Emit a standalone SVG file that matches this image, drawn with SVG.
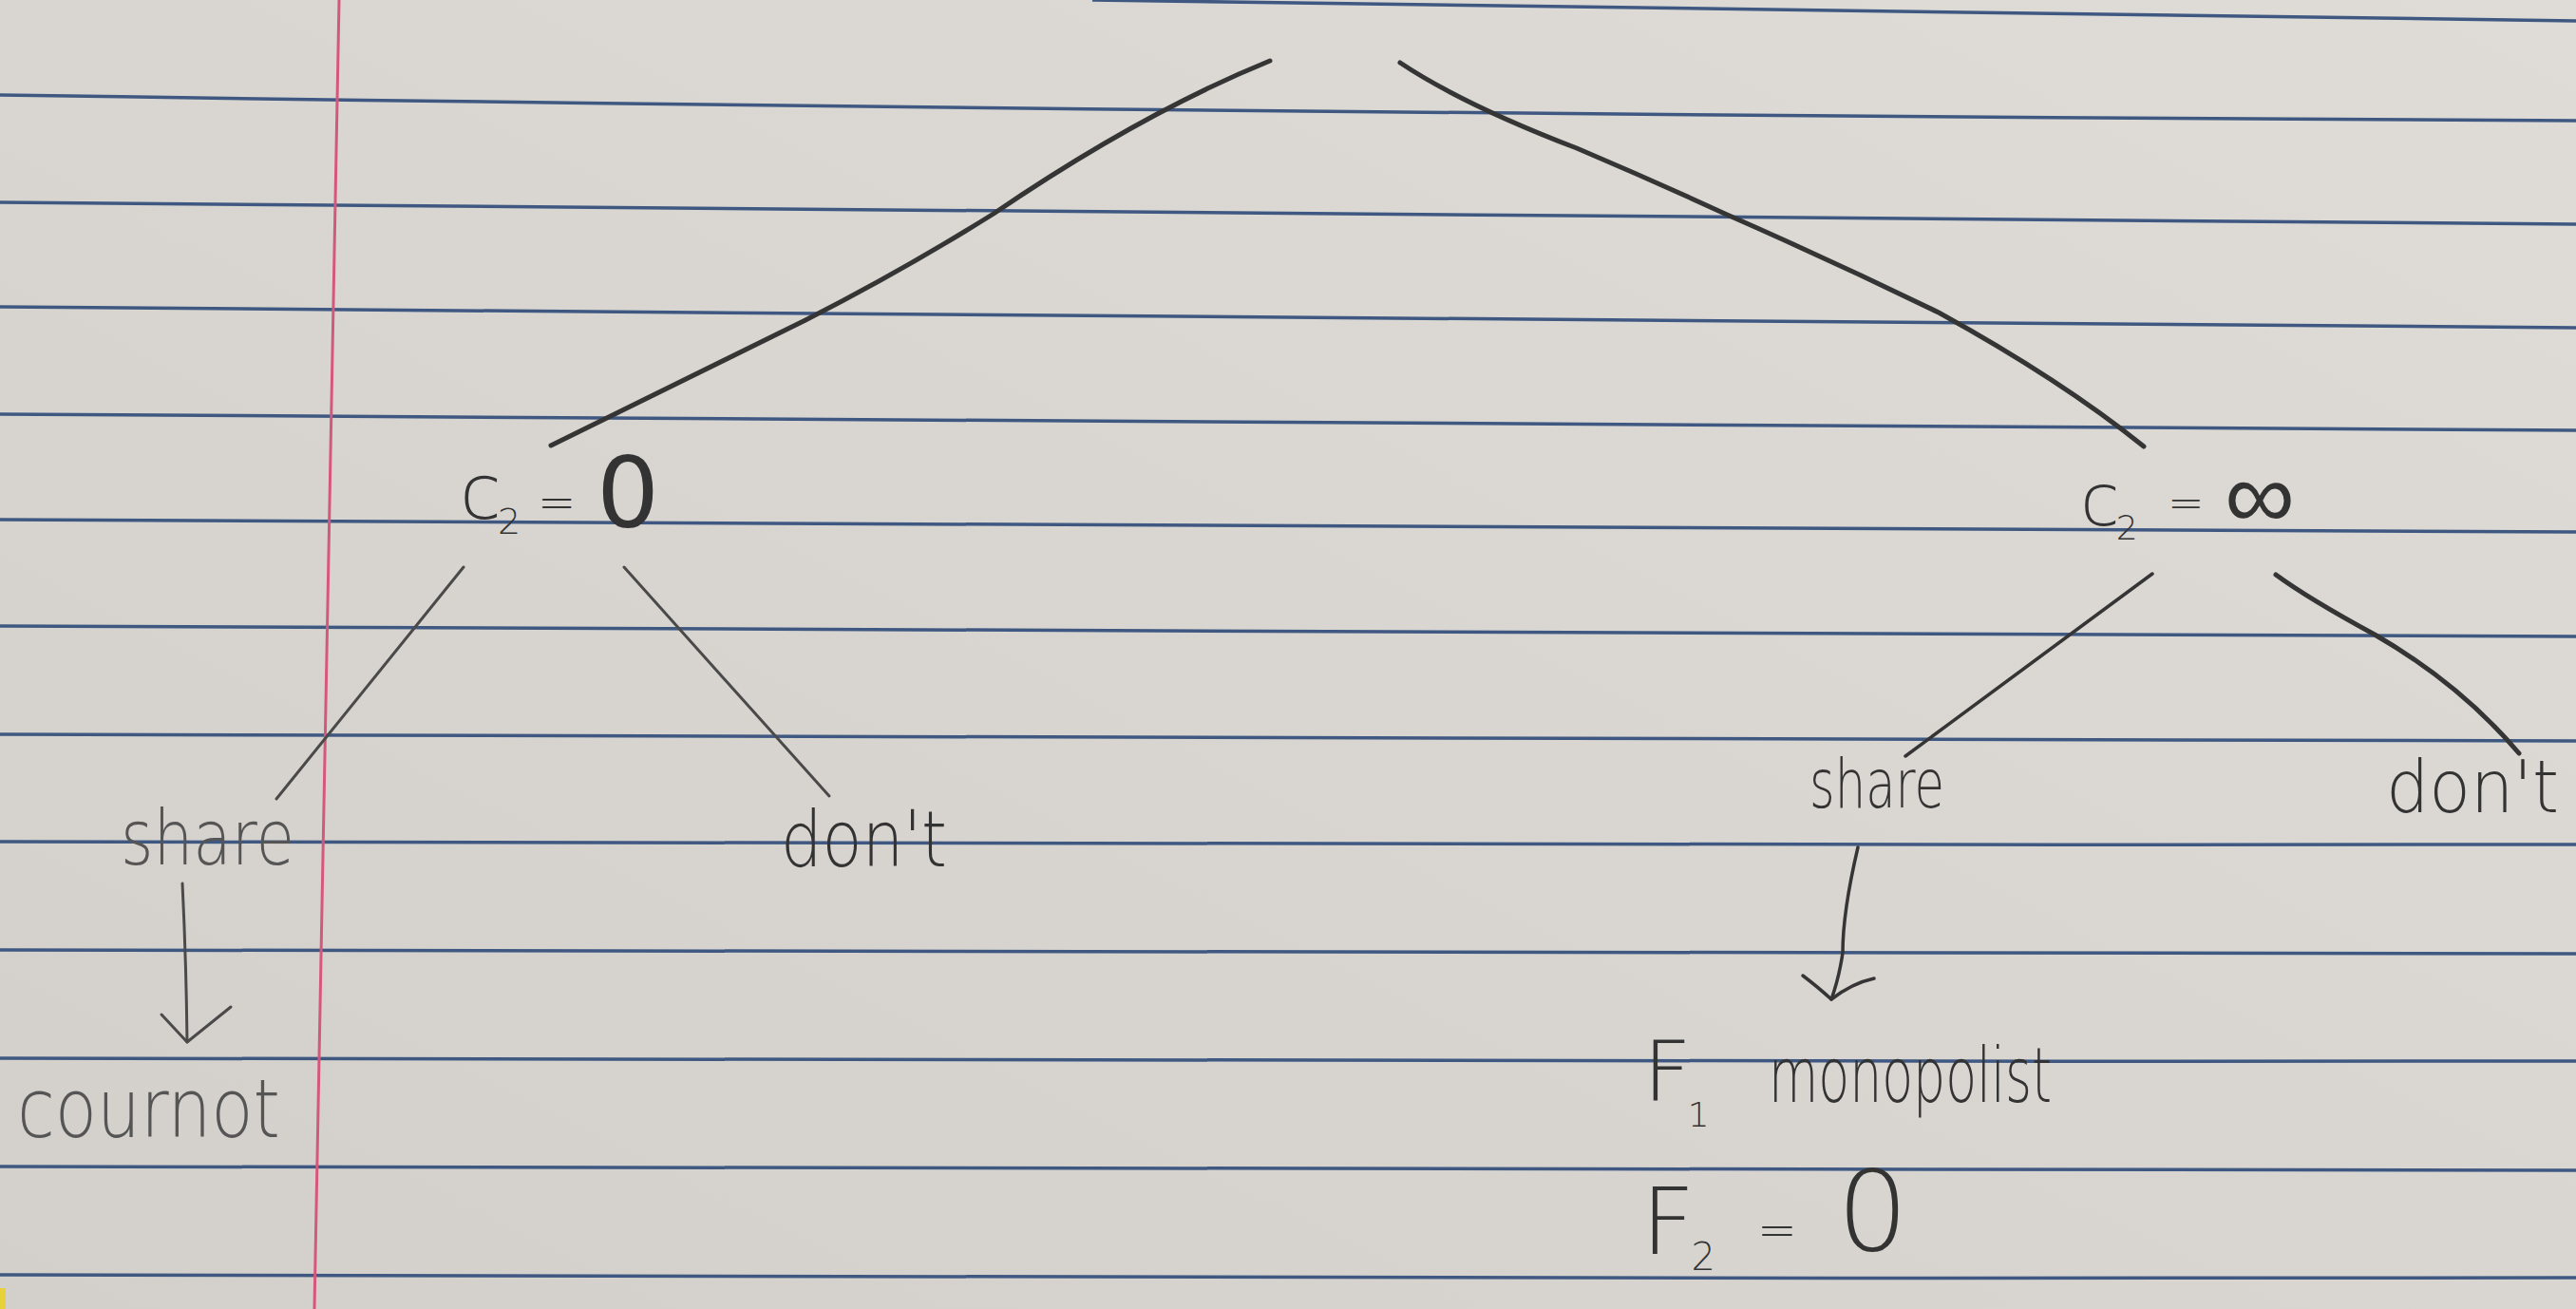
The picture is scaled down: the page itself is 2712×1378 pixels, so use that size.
<svg xmlns="http://www.w3.org/2000/svg" width="2712" height="1378" viewBox="0 0 2712 1378">
<defs>
<linearGradient id="paper" x1="0" y1="1" x2="1" y2="0">
<stop offset="0" stop-color="#d3d0cb"/>
<stop offset="0.5" stop-color="#d9d6d1"/>
<stop offset="1" stop-color="#dfdcd7"/>
</linearGradient>
<style>
.rule{stroke:#3f5882;stroke-width:3.5;fill:none}
.margin{stroke:#d6577c;stroke-width:3;fill:none}
.pen{stroke:#353535;stroke-width:5;fill:none;stroke-linecap:round;stroke-linejoin:round}
.pencil{stroke:#4a4a4a;stroke-width:3;fill:none;stroke-linecap:round;stroke-linejoin:round}
.hw{font-family:"DejaVu Sans","Liberation Sans",sans-serif;font-weight:300;fill:#333333}
.hwl{font-family:"DejaVu Sans","Liberation Sans",sans-serif;font-weight:200;fill:#555555}
</style>
</defs>
<rect x="0" y="0" width="2712" height="1378" fill="url(#paper)"/>
<g id="paper-rules">
<path class="rule" d="M1150 0 L2712 22"/>
<path class="rule" d="M0 100 Q1356 120 2712 127"/>
<path class="rule" d="M0 213 Q1356 230 2712 236"/>
<path class="rule" d="M0 323 Q1356 340 2712 345"/>
<path class="rule" d="M0 436 Q1356 450 2712 453"/>
<path class="rule" d="M0 547 Q1356 558 2712 560"/>
<path class="rule" d="M0 659 Q1356 668 2712 670"/>
<path class="rule" d="M0 773 Q1356 779 2712 780"/>
<path class="rule" d="M0 886 Q1356 890 2712 889"/>
<path class="rule" d="M0 1000 Q1356 1004 2712 1004"/>
<path class="rule" d="M0 1114 Q1356 1118 2712 1117"/>
<path class="rule" d="M0 1228 Q1356 1232 2712 1232"/>
<path class="rule" d="M0 1342 Q1356 1347 2712 1345"/>
<path class="margin" d="M357 0 L331 1378"/>
<rect x="0" y="1356" width="6" height="22" fill="#e8d23a"/>
</g>
<g id="connectors">
<path class="pen" d="M1337 64 Q1200 120 1046 225 Q950 285 848 337 Q700 410 580 469"/>
<path class="pen" d="M1474 66 Q1540 110 1660 156 Q1740 190 1816 225 Q1930 275 2041 329 Q2170 400 2257 470"/>
<path class="pencil" d="M488 597 L291 841"/>
<path class="pencil" d="M657 597 L873 838"/>
<path class="pen" style="stroke-width:3.5" d="M2266 604 L2006 796"/>
<path class="pen" d="M2396 605 Q2430 630 2500 668 Q2590 720 2652 793"/>
<path class="pencil" d="M192 930 Q196 1010 197 1097"/>
<path class="pencil" d="M170 1068 L197 1097 L243 1060"/>
<path class="pen" style="stroke-width:3.5" d="M1956 892 Q1940 960 1940 1003 Q1936 1030 1928 1052"/>
<path class="pen" style="stroke-width:3.5" d="M1898 1027 Q1915 1040 1928 1052 Q1950 1035 1973 1030"/>
</g>
<g id="node-c2-zero">
<text class="hw" x="484" y="546" font-size="80">c<tspan dx="-4" dy="16" font-size="38">2</tspan></text>
<text class="hw" x="566" y="545" font-size="48">=</text>
<text class="hw" x="628" y="555" font-size="104" style="font-weight:400">0</text>
</g>
<g id="node-c2-inf">
<text class="hw" x="2190" y="553" font-size="76">c<tspan dx="-4" dy="15" font-size="36">2</tspan></text>
<text class="hw" x="2282" y="545" font-size="46">=</text>
<text class="hw" x="2342" y="556" font-size="100" style="font-weight:200" textLength="74" lengthAdjust="spacingAndGlyphs">∞</text>
</g>
<g id="node-share-left">
<text class="hwl" x="127" y="910" font-size="80" textLength="183" lengthAdjust="spacingAndGlyphs">share</text>
</g>
<g id="node-dont-left">
<text class="hw" x="822" y="912" font-size="82" textLength="175" lengthAdjust="spacingAndGlyphs">don't</text>
</g>
<g id="node-cournot">
<text class="hwl" x="18" y="1197" font-size="85" textLength="277" lengthAdjust="spacingAndGlyphs">cournot</text>
</g>
<g id="node-share-right">
<text class="hw" x="1905" y="850" font-size="72" textLength="142" lengthAdjust="spacingAndGlyphs">share</text>
</g>
<g id="node-dont-right">
<text class="hw" x="2512" y="855" font-size="76" textLength="182" lengthAdjust="spacingAndGlyphs">don't</text>
</g>
<g id="node-monopolist">
<text class="hw" x="1730" y="1158" font-size="88">F<tspan dx="-4" dy="28" font-size="36">1</tspan></text>
<text class="hw" x="1862" y="1160" font-size="80" textLength="298" lengthAdjust="spacingAndGlyphs">monopolist</text>
<text class="hw" x="1728" y="1320" font-size="98">F<tspan dx="-4" dy="17" font-size="40">2</tspan></text>
<text class="hw" x="1850" y="1312" font-size="50">=</text>
<text class="hw" x="1934" y="1316" font-size="118">0</text>
</g>
</svg>
